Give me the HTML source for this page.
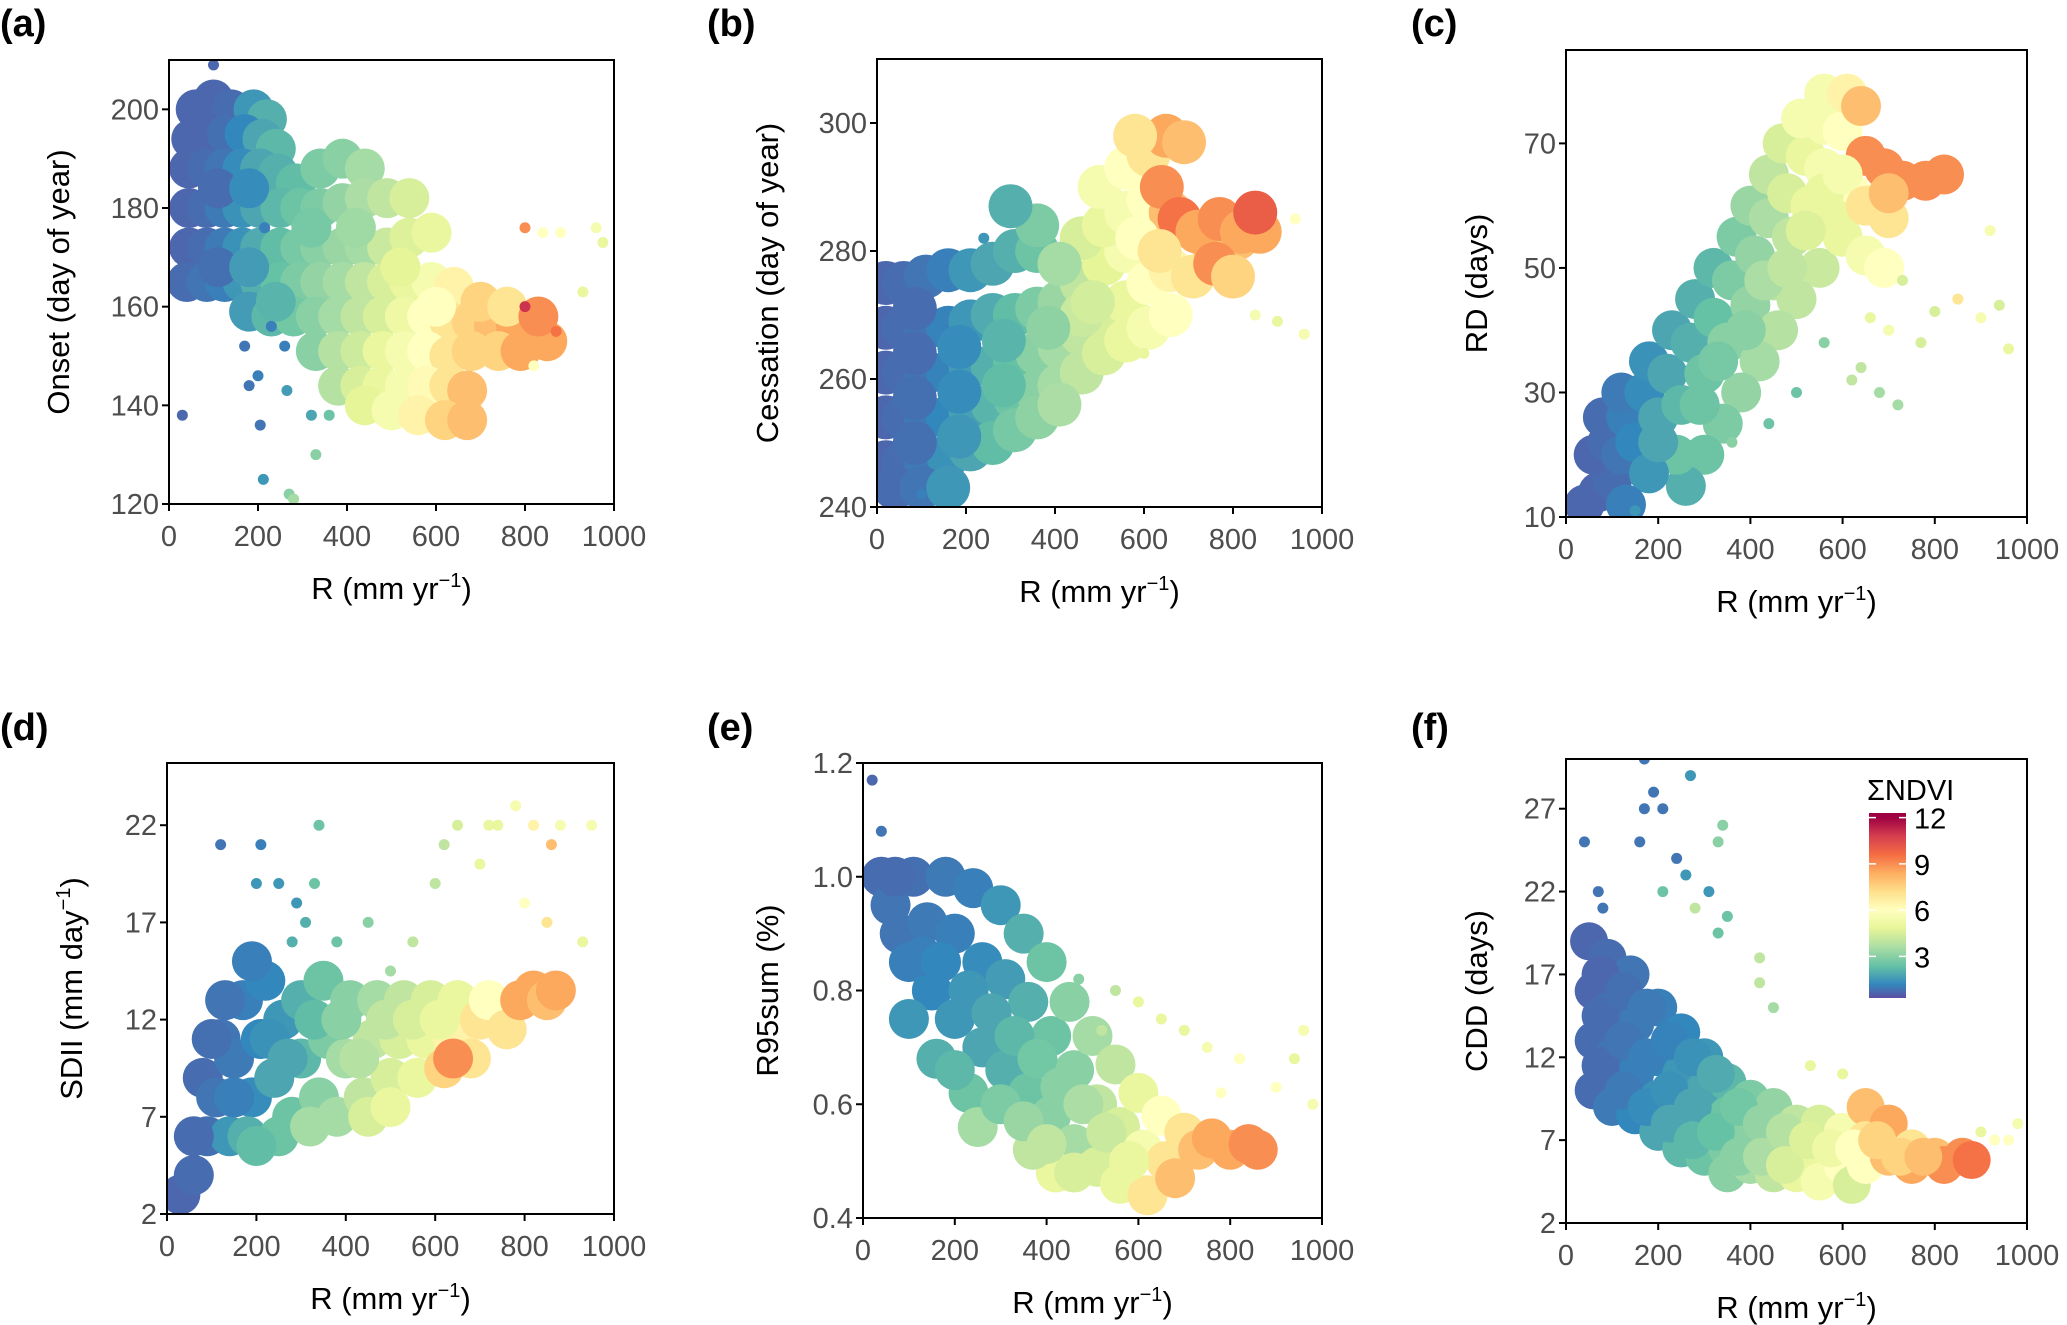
<!DOCTYPE html>
<html><head><meta charset="utf-8"><style>
body{margin:0;background:#fff;}
svg{display:block;font-family:"Liberation Sans",Arial,sans-serif;}
</style></head><body>
<svg id="fig" width="2067" height="1325" viewBox="0 0 2067 1325"></svg>
<script>
// ---- data arrays: [R, value, NDVI] ----
const aCore=[[60,200,0.5],[100,202,0.5],[140,200,0.6],[190,200,1.5],[220,198,2],[50,194,0.5],[90,195,0.5],[130,195,0.7],[170,195,1.2],[210,194,1.8],[240,192,2.2],[45,188,0.5],[85,188,0.6],[125,188,0.8],[165,188,1.3],[205,188,1.8],[245,187,2],[285,185,2.3],[340,188,2.8],[390,190,3],[440,188,3.5],[45,180,0.5],[85,180,0.6],[125,180,0.9],[165,180,1.4],[205,180,1.8],[250,180,2.2],[295,180,2.5],[340,180,2.8],[390,181,3.2],[440,182,3.6],[490,182,4],[540,182,4.5],[45,172,0.5],[85,172,0.6],[125,172,0.9],[165,172,1.4],[205,172,1.9],[250,172,2.3],[295,172,2.7],[340,172,3],[390,172,3.3],[440,172,3.5],[490,172,4.2],[540,174,4.6],[590,175,5],[40,165,0.6],[85,165,0.8],[125,165,1],[165,165,1.5],[205,165,2],[250,165,2.4],[295,165,2.8],[340,165,3.2],[390,165,3.5],[440,165,4],[490,165,4.5],[540,165,5],[590,165,5.5],[640,164,6.5],[180,159,1.6],[230,158,2.2],[280,158,2.6],[330,158,3],[380,158,3.5],[430,158,4],[480,158,4.5],[530,158,5.2],[580,158,6],[630,157,7],[680,157,7.5],[730,156,8],[780,156,8.5],[820,155,8.5],[330,151,3],[380,151,3.8],[430,151,4.3],[480,151,5],[530,151,5.5],[580,151,6],[630,150,7],[680,151,7.5],[740,151,7.5],[790,151,8.5],[850,153,8.5],[380,144,3.8],[430,144,4.5],[480,144,5],[530,144,5.5],[580,144,6.2],[630,144,7],[670,143,8],[440,140,4.8],[500,139,5.5],[560,138,6.5],[620,137,7.5],[670,137,8],[110,184,0.6],[180,184,1.3],[110,168,0.7],[180,168,1.6],[240,161,2.1],[320,176,2.7],[420,176,3.4],[520,168,4.8],[600,160,6],[700,161,7.5],[760,160,7],[830,158,9]];
const aSparse=[[30,138,0.5],[100,209,0.5],[170,152,0.8],[180,144,0.8],[200,146,1],[205,136,0.8],[212,125,1.5],[270,122,3],[280,121,3.5],[330,130,3],[360,138,2.5],[320,138,1.8],[265,143,1.6],[215,176,1],[840,175,6],[880,175,6],[960,176,5.5],[975,173,5],[930,163,5],[800,176,9],[820,148,6],[870,155,9.5],[800,160,11],[260,152,1],[230,156,1]];
const bCore=[[20,275,0.5],[60,275,0.6],[110,276,0.8],[160,277,1],[210,277,1.5],[260,278,1.8],[310,280,2],[360,280,2.5],[20,268,0.5],[60,268,0.6],[110,268,0.8],[160,268,1.1],[210,269,1.5],[260,270,1.9],[310,270,2.3],[360,271,2.8],[410,272,3.3],[460,275,4],[510,278,4.8],[560,280,5.5],[20,261,0.5],[60,261,0.6],[110,261,0.8],[160,261,1.1],[210,262,1.6],[260,262,2],[310,263,2.4],[360,264,3],[410,265,3.5],[460,267,4],[510,270,4.5],[560,272,5],[610,275,6],[660,277,6.5],[710,276,7],[760,280,7.5],[810,282,8],[860,283,8.5],[20,254,0.5],[60,254,0.6],[110,254,0.9],[160,254,1.2],[210,255,1.7],[260,256,2.1],[310,257,2.5],[360,258,3],[410,259,3.5],[460,261,4],[510,264,4.5],[560,266,5],[610,268,5.5],[660,270,6],[20,247,0.5],[60,247,0.6],[110,247,0.9],[160,248,1.4],[210,249,1.8],[260,250,2.3],[310,252,2.7],[360,254,3.1],[410,256,3.6],[40,243,0.6],[100,243,0.8],[160,243,1.5],[460,282,4.5],[510,284,5],[560,286,5.5],[610,288,6],[660,286,8],[500,290,5.5],[560,293,6],[610,295,7],[650,298,8.5],[690,297,8],[580,298,7],[640,290,9],[680,285,9.5],[720,283,8.5],[770,285,9],[820,283,8.5],[850,286,10],[760,278,9],[800,276,7.5],[410,278,3.5],[460,270,4.2],[360,284,2.8],[300,287,2],[85,271,0.6],[85,264,0.6],[85,257,0.7],[85,250,0.7],[185,265,1.3],[185,258,1.3],[185,251,1.5],[285,266,2.1],[285,259,2.3],[385,268,3.1],[485,272,4.4],[585,282,6],[635,280,7]];
const bSparse=[[940,285,6],[960,267,5.5],[900,269,5],[850,270,5.5],[100,242,1],[240,282,1.5],[600,264,5]];
const cCore=[[40,12,0.5],[70,14,0.5],[100,16,0.6],[60,20,0.5],[90,22,0.6],[120,20,0.8],[80,26,0.6],[130,26,1],[150,22,1.2],[120,30,0.9],[170,30,1.3],[200,26,1.8],[180,35,1.4],[220,33,1.8],[250,28,2.2],[230,40,1.8],[270,38,2],[300,33,2.5],[280,45,2],[320,42,2.4],[350,38,3],[320,50,2.2],[360,48,2.8],[400,44,3.2],[370,55,2.8],[410,52,3.2],[450,48,3.8],[400,60,3.3],[440,58,3.6],[490,55,4],[440,65,4],[480,62,4.5],[530,60,5],[470,70,4.5],[520,68,5],[560,66,5.5],[510,74,5.5],[560,73,5.5],[600,72,6],[560,78,5.5],[610,78,6.5],[640,76,8],[650,68,9],[690,66,9],[730,64,9],[780,64,9],[820,65,9],[620,62,6],[580,58,5],[550,50,4.2],[500,45,4],[460,40,3.8],[420,35,3.5],[380,30,3.2],[340,25,2.8],[300,20,2.5],[260,15,2],[600,55,5],[650,52,5.5],[700,58,7],[690,50,6],[240,20,2.5],[180,17,1.5],[130,12,1],[200,22,1.8],[290,28,2.5],[330,35,2.7],[390,40,3],[430,48,3.6],[480,50,4],[520,56,4.6],[560,62,5],[600,65,5.5],[650,60,7],[700,62,8]];
const cSparse=[[660,42,5],[700,40,5.5],[800,43,4.5],[850,45,7],[900,42,5.5],[940,44,4.5],[960,37,5],[920,56,5.5],[730,48,4.5],[770,38,4.5],[680,30,3.5],[720,28,3.5],[640,34,4],[560,38,3],[500,30,2.5],[440,25,2.5],[360,22,3],[20,10,0.5],[150,11,1.5],[620,32,4]];
const dCore=[[30,3,0.5],[60,4,0.6],[90,6,0.7],[80,9,0.6],[110,8,0.8],[120,11,0.8],[150,10,0.9],[170,13,1],[140,6,1.5],[190,8,1.3],[210,11,1.2],[220,14,1.2],[180,6,2],[240,9,1.8],[260,12,1.5],[280,7,2.5],[300,10,2.2],[300,13,2],[340,8,3],[360,11,2.8],[350,14,2.5],[380,7,3.5],[400,10,3.5],[410,13,3],[440,8,4],[460,11,4],[470,13,3.5],[500,9,4.5],[520,11,4.5],[530,13,4],[560,9,5],[580,11,5],[590,13,4.5],[620,9.5,7.5],[640,11,6.5],[650,13,5],[680,10,7],[700,12,7],[720,13,6],[760,11.5,7],[790,13,8.5],[820,13.5,8.5],[850,13,8],[870,13.5,8.5],[640,10,9],[250,6,2.5],[320,6.5,3.5],[450,7,4.5],[500,7.5,5],[130,13,0.8],[190,15,1],[150,8,1],[230,11,1.4],[270,10,1.8],[330,12,2.3],[390,12,3],[430,10,3.8],[490,12,4],[550,12,4.5],[610,12,5],[200,5.5,2.3],[60,6,0.6],[100,11,0.7]];
const dSparse=[[120,21,0.8],[210,21,1],[200,19,1.5],[250,19,1.5],[290,18,1.5],[330,19,2.5],[340,22,2.5],[280,16,2],[310,17,2],[380,16,2.5],[450,17,3],[550,16,4],[600,19,4],[620,21,4],[650,22,4.5],[700,20,5],[720,22,5],[740,22,5],[780,23,5.5],[800,18,6],[820,22,6.5],[860,21,8],[880,22,5.5],[950,22,5.5],[930,16,5],[850,17,7],[500,14.5,3.5]];
const eCore=[[40,1.0,0.6],[60,0.95,0.8],[80,0.9,0.8],[100,0.85,1],[110,1.0,0.7],[140,0.92,0.9],[150,0.8,1.2],[180,1.0,0.9],[200,0.9,1],[200,0.75,1.5],[240,0.98,1],[260,0.85,1.3],[260,0.7,1.8],[300,0.95,1.5],[310,0.82,1.6],[310,0.66,2],[350,0.9,2],[360,0.78,2],[360,0.62,2.5],[400,0.85,2.5],[410,0.72,2.5],[410,0.58,3],[450,0.78,3],[460,0.66,3],[460,0.53,3.5],[500,0.72,3.5],[510,0.6,4],[510,0.49,4.5],[550,0.67,4],[560,0.56,4.5],[560,0.46,5],[600,0.62,5],[610,0.52,5.5],[620,0.44,7],[650,0.58,6],[660,0.5,7],[680,0.47,8],[700,0.55,7],[730,0.52,8],[760,0.54,8.5],[800,0.52,8.5],[840,0.53,9],[860,0.52,9],[420,0.48,5],[370,0.52,4],[230,0.62,2.5],[160,0.68,2],[100,0.75,1.5],[250,0.56,3.5],[130,0.86,1],[170,0.85,1.2],[230,0.8,1.5],[280,0.76,1.8],[330,0.72,2.2],[380,0.68,2.6],[430,0.63,3],[480,0.6,3.6],[530,0.55,4.2],[580,0.5,5],[300,0.6,2.8],[350,0.57,3.3],[400,0.53,4],[460,0.48,4.5],[200,0.66,2.2],[70,1.0,0.6]];
const eSparse=[[20,1.17,0.5],[40,1.08,0.8],[550,0.8,4],[600,0.78,5],[650,0.75,5],[700,0.73,5],[750,0.7,5.5],[780,0.62,6],[820,0.68,6],[900,0.63,6],[960,0.73,5.5],[940,0.68,5],[980,0.6,5.5],[470,0.82,3],[520,0.73,4]];
const fCore=[[50,19,0.5],[60,16,0.5],[60,13,0.6],[60,10,0.6],[90,18,0.6],[100,15,0.7],[100,12,0.8],[100,9,0.9],[140,17,0.8],[150,14,0.9],[150,11,1],[150,8.5,1.2],[200,15,1],[200,12,1.2],[200,9.5,1.4],[200,7.5,1.8],[250,13.5,1.2],[250,11,1.5],[250,8.5,1.8],[250,6.5,2.2],[300,12,1.5],[300,10,1.8],[300,8,2],[300,6,2.5],[350,10.5,2.2],[350,8.5,2.5],[350,6.5,2.8],[350,5,3],[400,9.5,2.8],[400,7.5,3],[400,5.5,3.5],[450,9,3.2],[450,7,3.5],[450,5,4],[500,8,4],[500,6.5,4],[500,5,5],[550,8,4.5],[550,6,5],[550,4.5,5.5],[600,7.5,5.5],[600,5.5,6],[620,4.3,4.5],[650,9,8],[650,7,7],[650,5.5,6],[700,8,8.5],[700,6,8],[750,6.5,7],[750,5.5,8.5],[800,6,8],[820,5.5,9],[860,6,9],[880,5.8,9.5],[75,17,0.5],[75,14.5,0.6],[75,11.5,0.6],[125,16,0.7],[125,13,0.8],[125,10,0.9],[175,15,0.9],[175,12,1],[175,9,1.3],[225,13,1.1],[225,10,1.4],[225,8,1.8],[275,12,1.4],[275,9,1.8],[275,7,2.2],[325,11,1.9],[325,7.5,2.4],[375,9,2.6],[375,6,3],[425,8,3.2],[425,6,3.6],[475,7.5,3.8],[475,5.5,4.5],[525,7,4.6],[575,6.5,5.2],[625,6.5,6],[675,7,7.5],[725,6,7.5],[775,6,8]];
const fSparse=[[40,25,0.8],[70,22,0.8],[80,21,0.8],[160,25,0.8],[170,27,0.8],[190,28,0.8],[210,27,0.8],[240,24,0.8],[260,23,1.5],[270,29,1.5],[310,22,1.5],[330,25,3],[340,26,3],[350,20.5,2.5],[330,19.5,2.5],[210,22,2.5],[280,21,4],[170,30,0.8],[420,18,4],[420,16.5,4],[450,15,3.5],[530,11.5,5],[600,11,5],[930,7,6],[960,7,6],[980,8,5.5],[900,7.5,5]];
const xTicks=[0,200,400,600,800,1000];
const aTicks=[120,140,160,180,200];
const bTicks=[240,260,280,300];
const cTicks=[10,30,50,70];
const dTicks=[2,7,12,17,22];
const eTicks=[0.4,0.6,0.8,1.0,1.2];
const fTicks=[2,7,12,17,22,27];
const cbTicks=[3,6,9,12];

const NS="http://www.w3.org/2000/svg";
const svg=document.getElementById('fig');
function mk(tag,attrs,parent){const e=document.createElementNS(NS,tag);for(const k in attrs)e.setAttribute(k,attrs[k]);(parent||svg).appendChild(e);return e;}
const stops=["#5e4fa2","#3288bd","#66c2a5","#abdda4","#e6f598","#ffffbf","#fee08b","#fdae61","#f46d43","#d53e4f","#9e0142"];
function hex(h){return [1,3,5].map(i=>parseInt(h.substr(i,2),16));}
function col(v){let t=Math.max(0,Math.min(1,v/12))*(stops.length-1);let i=Math.min(stops.length-2,Math.floor(t));let f=t-i;const a=hex(stops[i]),b=hex(stops[i+1]);return 'rgb('+a.map((x,k)=>Math.round(x+(b[k]-x)*f)).join(',')+')';}

const panels=[
 {id:'a',x0:169,x1:614,y0:60,y1:504,ymin:120,ymax:210,yt:aTicks,fmt:v=>v,core:aCore,sparse:aSparse,title:'Onset (day of year)',lx:0,ly:36,ytx:59,r:20},
 {id:'b',x0:877,x1:1322,y0:59,y1:507,ymin:240,ymax:310,yt:bTicks,fmt:v=>v,core:bCore,sparse:bSparse,title:'Cessation (day of year)',lx:707,ly:36,ytx:768,r:22},
 {id:'c',x0:1566,x1:2027,y0:50,y1:517,ymin:10,ymax:85,yt:cTicks,fmt:v=>v,core:cCore,sparse:cSparse,title:'RD (days)',lx:1411,ly:36,ytx:1477,r:20},
 {id:'d',x0:167,x1:614,y0:763,y1:1214,ymin:2,ymax:25.2,yt:dTicks,fmt:v=>v,core:dCore,sparse:dSparse,title:'SDII (mm day',sup:true,lx:0,ly:740,ytx:72,r:20},
 {id:'e',x0:863,x1:1322,y0:763,y1:1218,ymin:0.4,ymax:1.2,yt:eTicks,fmt:v=>v.toFixed(1),core:eCore,sparse:eSparse,title:'R95sum (%)',lx:707,ly:740,ytx:768,r:20},
 {id:'f',x0:1566,x1:2027,y0:759,y1:1223,ymin:2,ymax:30,yt:fTicks,fmt:v=>v,core:fCore,sparse:fSparse,title:'CDD (days)',lx:1411,ly:740,ytx:1477,r:19}
];
panels.forEach(p=>{
 const g=mk('g',{});
 
 
 const sx=v=>p.x0+(v/1000)*(p.x1-p.x0);
 const sy=v=>p.y1-(v-p.ymin)/(p.ymax-p.ymin)*(p.y1-p.y0);
 const clipId='clip'+p.id;
 const cp=mk('clipPath',{id:clipId},g);mk('rect',{x:p.x0,y:p.y0,width:p.x1-p.x0,height:p.y1-p.y0},cp);
 const pts=mk('g',{'clip-path':'url(#'+clipId+')'},g);
 
 
 p.core.forEach(d=>{const c=mk('circle',{cx:sx(d[0]),cy:sy(d[1]),r:p.r,fill:col(d[2])},pts);
  
  });
 p.sparse.forEach(d=>{const c=mk('circle',{cx:sx(d[0]),cy:sy(d[1]),r:5.5,fill:col(d[2])},pts);
  
  });
 const box=mk('rect',{x:p.x0,y:p.y0,width:p.x1-p.x0,height:p.y1-p.y0,fill:'none',stroke:'#000','stroke-width':2},g);
 
 
 xTicks.forEach(t=>{mk('line',{x1:sx(t),x2:sx(t),y1:p.y1,y2:p.y1+7,stroke:'#000','stroke-width':2},g);
  const tx=mk('text',{x:sx(t),y:p.y1+42,'text-anchor':'middle','font-size':29,fill:'#4d4d4d'},g);tx.textContent=t;
  
  });
 p.yt.forEach(t=>{mk('line',{x1:p.x0-7,x2:p.x0,y1:sy(t),y2:sy(t),stroke:'#000','stroke-width':2},g);
  const tx=mk('text',{x:p.x0-10,y:sy(t)+10,'text-anchor':'end','font-size':29,fill:'#4d4d4d'},g);tx.textContent=p.fmt(t);
  
  });
 const xt=mk('text',{x:(p.x0+p.x1)/2,y:p.y1+95,'text-anchor':'middle','font-size':31,fill:'#000'},g);
 xt.innerHTML='R (mm yr<tspan dy="-12" font-size="20">−1</tspan><tspan dy="12">)</tspan>';
 
 
 const yt=mk('text',{x:0,y:0,'text-anchor':'middle','font-size':31,fill:'#000',transform:'translate('+(p.ytx+10)+','+((p.y0+p.y1)/2)+') rotate(-90)'},g);
 if(p.sup){yt.innerHTML='SDII (mm day<tspan dy="-12" font-size="20">−1</tspan><tspan dy="12">)</tspan>';}else{yt.textContent=p.title;}
 
 
 const lb=mk('text',{x:p.lx,y:p.ly,'font-size':38,'font-weight':'bold',fill:'#000'},g);lb.textContent='('+p.id+')';
 
 
});
// colorbar
const cb=mk('g',{});


const defs=mk('defs',{},cb);
const lg=mk('linearGradient',{id:'cbg',x1:0,y1:1,x2:0,y2:0},defs);
const cbMin=0.3,cbMax=12.3,cbTop=813,cbBot=998;
stops.forEach((s,i)=>{const v=i*12/(stops.length-1);mk('stop',{offset:((v-cbMin)/(cbMax-cbMin)).toFixed(3),'stop-color':s},lg);});
mk('rect',{x:1869,y:cbTop,width:37,height:cbBot-cbTop,fill:'url(#cbg)'},cb);
const cy=v=>cbBot-(v-cbMin)/(cbMax-cbMin)*(cbBot-cbTop);
cbTicks.forEach(t=>{mk('line',{x1:1869,x2:1876,y1:cy(t),y2:cy(t),stroke:'#fff','stroke-width':1.5},cb);mk('line',{x1:1899,x2:1906,y1:cy(t),y2:cy(t),stroke:'#fff','stroke-width':1.5},cb);
 const tx=mk('text',{x:1914,y:cy(t)+11,'font-size':29,fill:'#000'},cb);tx.textContent=t;
 
 });
const ct=mk('text',{x:1867,y:800,'font-size':29,fill:'#000'},cb);ct.textContent='ΣNDVI';


</script>
</body></html>
